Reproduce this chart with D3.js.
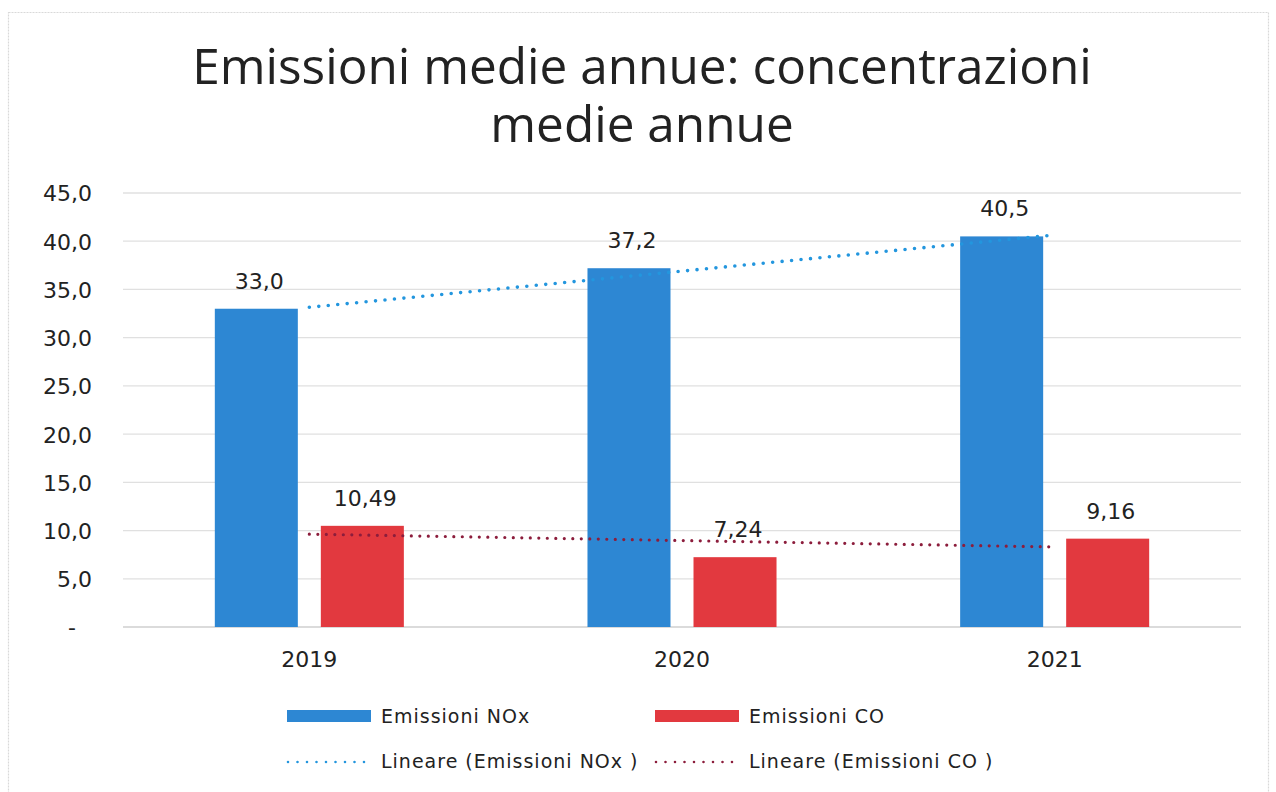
<!DOCTYPE html>
<html>
<head>
<meta charset="utf-8">
<script src="https://cdn.jsdelivr.net/npm/d3@7"></script>
<style>
	body { margin: 0; background: #fff; }
	text { fill: #222; }
</style>
</head>
<body>
<div id="chart"></div>
<script>
const years = ["2019", "2020", "2021"];
const nox = [33.0, 37.2, 40.5];
const co = [10.49, 7.24, 9.16];
const noxLabels = ["33,0", "37,2", "40,5"];
const coLabels = ["10,49", "7,24", "9,16"];
const yTicks = [0, 5, 10, 15, 20, 25, 30, 35, 40, 45];
const seriesNames = ["Emissioni NOx", "Emissioni CO"];
const trendNames = ["Lineare (Emissioni NOx )", "Lineare (Emissioni CO )"];

const colors = { nox: "#2d87d3", co: "#e2393f", noxTrend: "#2396de", coTrend: "#8c1d3c" };

const width = 1276, height = 792;
const plotLeft = 123, plotRight = 1241, plotTop = 193, plotBottom = 627;

const svg = d3.select("#chart").append("svg")
	.attr("width", width)
	.attr("height", height);

// chart border
svg.append("rect")
	.attr("x", 8.5).attr("y", 12.5)
	.attr("width", 1260).attr("height", 800)
	.style("fill", "none")
	.style("stroke", "#d9d9d9")
	.style("stroke-width", 1.2)
	.style("stroke-dasharray", "2,1");

// title
const title = svg.append("text")
	.attr("text-anchor", "middle")
	.style("font-family", "'Open Sans', sans-serif")
	.style("font-size", "49.5px");
title.append("tspan").attr("x", 642).attr("y", 84).text("Emissioni medie annue: concentrazioni");
title.append("tspan").attr("x", 642).attr("y", 142).text("medie annue");

const x0 = d3.scaleBand().domain(years).range([plotLeft, plotRight]);
const x1 = d3.scaleBand().domain(["nox", "co"]).range([0, x0.bandwidth()])
	.paddingInner(0.217).paddingOuter(0.866);
const ys = d3.scaleLinear().domain([0, 45]).range([plotBottom, plotTop]);

// gridlines
svg.append("g")
	.selectAll("line")
	.data(yTicks).enter().append("line")
		.attr("x1", plotLeft).attr("x2", plotRight)
		.attr("y1", d => ys(d)).attr("y2", d => ys(d))
		.style("stroke", d => d === 0 ? "#cfcfcf" : "#e0e0e0")
		.style("stroke-width", 1.3);

// y axis labels
const yAxis = svg.append("g").attr("transform", "translate(" + (plotLeft - 31) + ",0)")
	.call(d3.axisLeft(ys)
		.tickValues(yTicks)
		.tickSize(0)
		.tickPadding(0)
		.tickFormat(d => d === 0 ? "-" : d3.format(".1f")(d).replace(".", ",")));
yAxis.select(".domain").remove();
yAxis.selectAll("text")
	.style("font-family", "'DejaVu Sans', sans-serif")
	.style("font-size", "22px")
	.style("fill", "#222")
	.attr("dy", "0.36em")
	.attr("dx", d => d === 0 ? "-16px" : 0);

// x axis labels
const xAxis = svg.append("g").attr("transform", "translate(0," + plotBottom + ")")
	.call(d3.axisBottom(x0).tickSize(0).tickPadding(24));
xAxis.select(".domain").remove();
xAxis.selectAll("text")
	.style("font-family", "'DejaVu Sans', sans-serif")
	.style("font-size", "22px")
	.style("fill", "#222");

// bars
const groups = svg.append("g").selectAll("g")
	.data(years).enter().append("g")
		.attr("transform", d => "translate(" + x0(d) + ",0)");

groups.append("rect")
	.attr("x", x1("nox"))
	.attr("y", (d, i) => ys(nox[i]))
	.attr("width", x1.bandwidth())
	.attr("height", (d, i) => plotBottom - ys(nox[i]))
	.style("fill", colors.nox);

groups.append("rect")
	.attr("x", x1("co"))
	.attr("y", (d, i) => ys(co[i]))
	.attr("width", x1.bandwidth())
	.attr("height", (d, i) => plotBottom - ys(co[i]))
	.style("fill", colors.co);

// linear trendlines (least squares over category index)
function fit(vals) {
	const xs = vals.map((d, i) => i + 1);
	const mx = d3.mean(xs), my = d3.mean(vals);
	const slope = d3.sum(xs, (x, i) => (x - mx) * (vals[i] - my)) / d3.sum(xs, x => (x - mx) * (x - mx));
	return xs.map(x => my + slope * (x - mx));
}

const trendLine = d3.line()
	.x((d, i) => x0(years[i]) + x0.bandwidth() / 2)
	.y(d => ys(d));

svg.append("path")
	.datum(fit(co))
	.attr("d", trendLine)
	.style("fill", "none")
	.style("stroke", colors.coTrend)
	.style("stroke-width", 3.2)
	.style("stroke-linecap", "round")
	.style("stroke-dasharray", "0,8.5");

svg.append("path")
	.datum(fit(nox))
	.attr("d", trendLine)
	.style("fill", "none")
	.style("stroke", colors.noxTrend)
	.style("stroke-width", 3.6)
	.style("stroke-linecap", "round")
	.style("stroke-dasharray", "0,9.5");

// data labels
groups.append("text")
	.attr("x", x1("nox") + x1.bandwidth() / 2 + 3)
	.attr("y", (d, i) => ys(nox[i]) - 20)
	.attr("text-anchor", "middle")
	.style("font-family", "'DejaVu Sans', sans-serif")
	.style("font-size", "22px")
	.text((d, i) => noxLabels[i]);

groups.append("text")
	.attr("x", x1("co") + x1.bandwidth() / 2 + 3)
	.attr("y", (d, i) => ys(co[i]) - 20)
	.attr("text-anchor", "middle")
	.style("font-family", "'DejaVu Sans', sans-serif")
	.style("font-size", "22px")
	.text((d, i) => coLabels[i]);

// legend
const legendX = [287, 655];
const legend = svg.append("g");

legend.selectAll(".swatch")
	.data(seriesNames).enter().append("rect")
		.attr("x", (d, i) => legendX[i])
		.attr("y", 710)
		.attr("width", 84)
		.attr("height", 12)
		.style("fill", (d, i) => i === 0 ? colors.nox : colors.co);

legend.selectAll(".dots")
	.data(trendNames).enter().append("line")
		.attr("x1", (d, i) => legendX[i] + 1)
		.attr("x2", (d, i) => legendX[i] + 78)
		.attr("y1", 762).attr("y2", 762)
		.style("stroke", (d, i) => i === 0 ? colors.noxTrend : colors.coTrend)
		.style("stroke-width", 2.6)
		.style("stroke-linecap", "round")
		.style("stroke-dasharray", "0,9.5");

legend.selectAll(".name")
	.data(seriesNames).enter().append("text")
		.attr("x", (d, i) => legendX[i] + 94)
		.attr("y", 723)
		.style("font-family", "'DejaVu Sans', sans-serif")
		.style("font-size", "19px")
		.style("letter-spacing", "1px")
		.text(d => d);

legend.selectAll(".tname")
	.data(trendNames).enter().append("text")
		.attr("x", (d, i) => legendX[i] + 94)
		.attr("y", 768)
		.style("font-family", "'DejaVu Sans', sans-serif")
		.style("font-size", "19px")
		.style("letter-spacing", "1px")
		.text(d => d);
</script>
</body>
</html>
